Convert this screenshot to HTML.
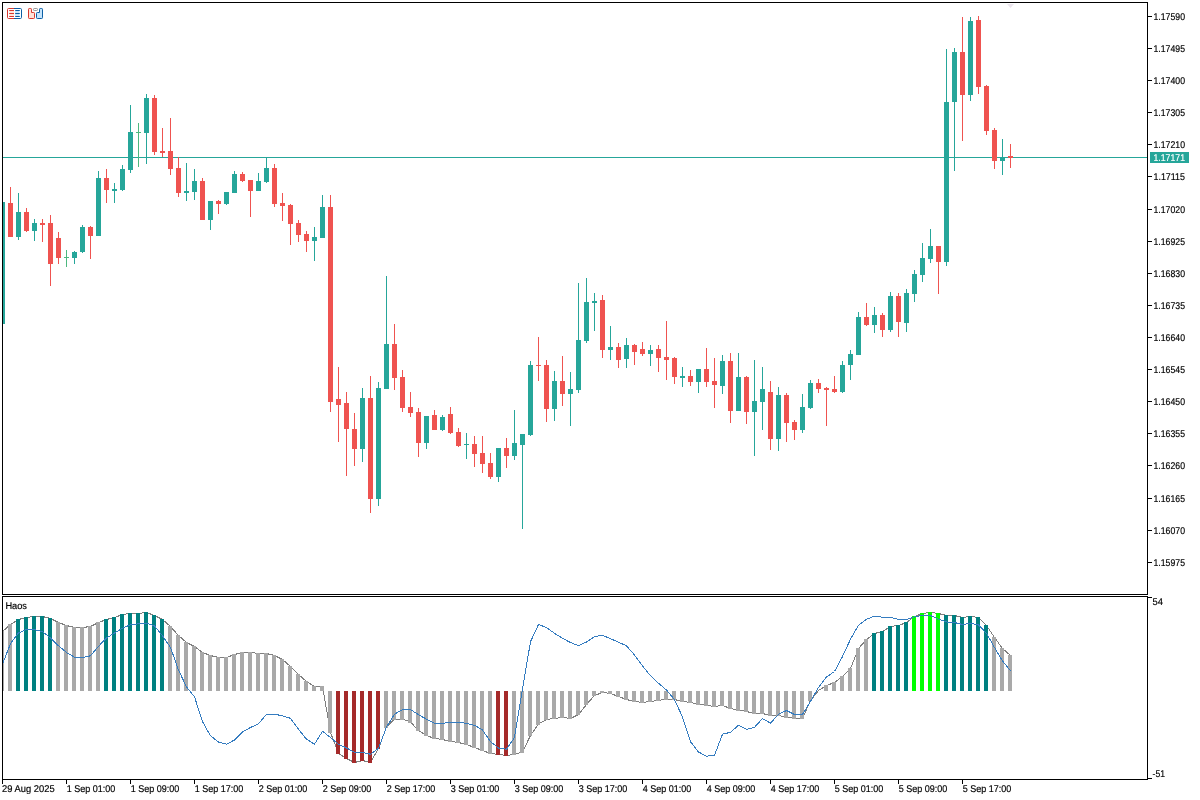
<!DOCTYPE html>
<html><head><meta charset="utf-8"><title>Chart</title>
<style>html,body{margin:0;padding:0;background:#fff;overflow:hidden}svg{display:block}text{font-family:"Liberation Sans",sans-serif;font-size:9.8px;fill:#000;stroke:#000;stroke-width:0.18px;text-rendering:geometricPrecision}</style>
</head><body>
<svg width="1200" height="800" viewBox="0 0 1200 800">
<rect width="1200" height="800" fill="#fff"/>
<defs><clipPath id="cm"><rect x="3" y="3" width="1144" height="591"/></clipPath><clipPath id="ci"><rect x="3" y="597" width="1144" height="182"/></clipPath></defs>
<g clip-path="url(#cm)" shape-rendering="crispEdges">
<rect x="3" y="157" width="1144" height="1" fill="#26a69a"/>
<rect x="2" y="202" width="1" height="122" fill="#26a69a"/>
<rect x="0" y="202" width="5" height="122" fill="#26a69a"/>
<rect x="10" y="187" width="1" height="50" fill="#ef5350"/>
<rect x="8" y="203" width="5" height="34" fill="#ef5350"/>
<rect x="18" y="193" width="1" height="47" fill="#26a69a"/>
<rect x="16" y="212" width="5" height="25" fill="#26a69a"/>
<rect x="26" y="208" width="1" height="24" fill="#ef5350"/>
<rect x="24" y="212" width="5" height="19" fill="#ef5350"/>
<rect x="34" y="219" width="1" height="22" fill="#26a69a"/>
<rect x="32" y="223" width="5" height="8" fill="#26a69a"/>
<rect x="42" y="219" width="1" height="23" fill="#ef5350"/>
<rect x="40" y="223" width="5" height="2" fill="#ef5350"/>
<rect x="50" y="215" width="1" height="71" fill="#ef5350"/>
<rect x="48" y="223" width="5" height="41" fill="#ef5350"/>
<rect x="58" y="232" width="1" height="32" fill="#ef5350"/>
<rect x="56" y="238" width="5" height="20" fill="#ef5350"/>
<rect x="66" y="250" width="1" height="17" fill="#4db87f"/>
<rect x="64" y="257" width="5" height="1" fill="#4db87f"/>
<rect x="74" y="251" width="1" height="13" fill="#26a69a"/>
<rect x="72" y="252" width="5" height="6" fill="#26a69a"/>
<rect x="82" y="225" width="1" height="28" fill="#26a69a"/>
<rect x="80" y="227" width="5" height="25" fill="#26a69a"/>
<rect x="90" y="226" width="1" height="33" fill="#ef5350"/>
<rect x="88" y="227" width="5" height="9" fill="#ef5350"/>
<rect x="98" y="171" width="1" height="65" fill="#26a69a"/>
<rect x="96" y="178" width="5" height="58" fill="#26a69a"/>
<rect x="106" y="169" width="1" height="34" fill="#ef5350"/>
<rect x="104" y="178" width="5" height="12" fill="#ef5350"/>
<rect x="114" y="183" width="1" height="20" fill="#26a69a"/>
<rect x="112" y="189" width="5" height="2" fill="#26a69a"/>
<rect x="122" y="165" width="1" height="26" fill="#26a69a"/>
<rect x="120" y="169" width="5" height="21" fill="#26a69a"/>
<rect x="130" y="105" width="1" height="68" fill="#26a69a"/>
<rect x="128" y="132" width="5" height="38" fill="#26a69a"/>
<rect x="138" y="123" width="1" height="44" fill="#4db87f"/>
<rect x="136" y="132" width="5" height="1" fill="#4db87f"/>
<rect x="146" y="94" width="1" height="70" fill="#26a69a"/>
<rect x="144" y="98" width="5" height="35" fill="#26a69a"/>
<rect x="154" y="95" width="1" height="60" fill="#ef5350"/>
<rect x="152" y="98" width="5" height="54" fill="#ef5350"/>
<rect x="162" y="128" width="1" height="29" fill="#ef5350"/>
<rect x="160" y="151" width="5" height="2" fill="#ef5350"/>
<rect x="170" y="118" width="1" height="57" fill="#ef5350"/>
<rect x="168" y="151" width="5" height="18" fill="#ef5350"/>
<rect x="178" y="157" width="1" height="40" fill="#ef5350"/>
<rect x="176" y="168" width="5" height="25" fill="#ef5350"/>
<rect x="186" y="163" width="1" height="38" fill="#26a69a"/>
<rect x="184" y="191" width="5" height="2" fill="#26a69a"/>
<rect x="194" y="169" width="1" height="31" fill="#26a69a"/>
<rect x="192" y="181" width="5" height="11" fill="#26a69a"/>
<rect x="202" y="178" width="1" height="42" fill="#ef5350"/>
<rect x="200" y="181" width="5" height="39" fill="#ef5350"/>
<rect x="210" y="201" width="1" height="29" fill="#26a69a"/>
<rect x="208" y="201" width="5" height="19" fill="#26a69a"/>
<rect x="218" y="200" width="1" height="14" fill="#ef5350"/>
<rect x="216" y="201" width="5" height="3" fill="#ef5350"/>
<rect x="226" y="192" width="1" height="13" fill="#26a69a"/>
<rect x="224" y="192" width="5" height="12" fill="#26a69a"/>
<rect x="234" y="171" width="1" height="22" fill="#26a69a"/>
<rect x="232" y="174" width="5" height="19" fill="#26a69a"/>
<rect x="242" y="172" width="1" height="10" fill="#ef5350"/>
<rect x="240" y="174" width="5" height="7" fill="#ef5350"/>
<rect x="250" y="180" width="1" height="37" fill="#ef5350"/>
<rect x="248" y="180" width="5" height="11" fill="#ef5350"/>
<rect x="258" y="173" width="1" height="18" fill="#26a69a"/>
<rect x="256" y="181" width="5" height="10" fill="#26a69a"/>
<rect x="266" y="157" width="1" height="26" fill="#26a69a"/>
<rect x="264" y="168" width="5" height="14" fill="#26a69a"/>
<rect x="274" y="164" width="1" height="43" fill="#ef5350"/>
<rect x="272" y="168" width="5" height="36" fill="#ef5350"/>
<rect x="282" y="193" width="1" height="28" fill="#ef5350"/>
<rect x="280" y="203" width="5" height="3" fill="#ef5350"/>
<rect x="290" y="204" width="1" height="41" fill="#ef5350"/>
<rect x="288" y="205" width="5" height="19" fill="#ef5350"/>
<rect x="298" y="220" width="1" height="22" fill="#ef5350"/>
<rect x="296" y="223" width="5" height="12" fill="#ef5350"/>
<rect x="306" y="231" width="1" height="21" fill="#ef5350"/>
<rect x="304" y="234" width="5" height="7" fill="#ef5350"/>
<rect x="314" y="227" width="1" height="34" fill="#26a69a"/>
<rect x="312" y="237" width="5" height="4" fill="#26a69a"/>
<rect x="322" y="195" width="1" height="43" fill="#26a69a"/>
<rect x="320" y="207" width="5" height="31" fill="#26a69a"/>
<rect x="330" y="195" width="1" height="217" fill="#ef5350"/>
<rect x="328" y="207" width="5" height="195" fill="#ef5350"/>
<rect x="338" y="367" width="1" height="75" fill="#ef5350"/>
<rect x="336" y="399" width="5" height="6" fill="#ef5350"/>
<rect x="346" y="392" width="1" height="84" fill="#ef5350"/>
<rect x="344" y="403" width="5" height="26" fill="#ef5350"/>
<rect x="354" y="413" width="1" height="53" fill="#ef5350"/>
<rect x="352" y="429" width="5" height="20" fill="#ef5350"/>
<rect x="362" y="388" width="1" height="74" fill="#26a69a"/>
<rect x="360" y="398" width="5" height="51" fill="#26a69a"/>
<rect x="370" y="376" width="1" height="137" fill="#ef5350"/>
<rect x="368" y="398" width="5" height="101" fill="#ef5350"/>
<rect x="378" y="382" width="1" height="124" fill="#26a69a"/>
<rect x="376" y="388" width="5" height="111" fill="#26a69a"/>
<rect x="386" y="276" width="1" height="113" fill="#26a69a"/>
<rect x="384" y="344" width="5" height="45" fill="#26a69a"/>
<rect x="394" y="324" width="1" height="66" fill="#ef5350"/>
<rect x="392" y="344" width="5" height="34" fill="#ef5350"/>
<rect x="402" y="370" width="1" height="42" fill="#ef5350"/>
<rect x="400" y="377" width="5" height="31" fill="#ef5350"/>
<rect x="410" y="392" width="1" height="25" fill="#ef5350"/>
<rect x="408" y="407" width="5" height="6" fill="#ef5350"/>
<rect x="418" y="408" width="1" height="49" fill="#ef5350"/>
<rect x="416" y="412" width="5" height="31" fill="#ef5350"/>
<rect x="426" y="416" width="1" height="33" fill="#26a69a"/>
<rect x="424" y="416" width="5" height="27" fill="#26a69a"/>
<rect x="434" y="410" width="1" height="20" fill="#ef5350"/>
<rect x="432" y="415" width="5" height="15" fill="#ef5350"/>
<rect x="442" y="415" width="1" height="16" fill="#26a69a"/>
<rect x="440" y="417" width="5" height="13" fill="#26a69a"/>
<rect x="450" y="407" width="1" height="27" fill="#ef5350"/>
<rect x="448" y="414" width="5" height="19" fill="#ef5350"/>
<rect x="458" y="428" width="1" height="19" fill="#ef5350"/>
<rect x="456" y="432" width="5" height="14" fill="#ef5350"/>
<rect x="466" y="433" width="1" height="26" fill="#26a69a"/>
<rect x="464" y="444" width="5" height="1" fill="#26a69a"/>
<rect x="474" y="436" width="1" height="31" fill="#ef5350"/>
<rect x="472" y="444" width="5" height="10" fill="#ef5350"/>
<rect x="482" y="436" width="1" height="37" fill="#ef5350"/>
<rect x="480" y="453" width="5" height="11" fill="#ef5350"/>
<rect x="490" y="453" width="1" height="26" fill="#ef5350"/>
<rect x="488" y="463" width="5" height="14" fill="#ef5350"/>
<rect x="498" y="448" width="1" height="34" fill="#26a69a"/>
<rect x="496" y="448" width="5" height="29" fill="#26a69a"/>
<rect x="506" y="438" width="1" height="30" fill="#ef5350"/>
<rect x="504" y="448" width="5" height="8" fill="#ef5350"/>
<rect x="514" y="410" width="1" height="50" fill="#26a69a"/>
<rect x="512" y="443" width="5" height="13" fill="#26a69a"/>
<rect x="522" y="434" width="1" height="95" fill="#26a69a"/>
<rect x="520" y="434" width="5" height="11" fill="#26a69a"/>
<rect x="530" y="361" width="1" height="75" fill="#26a69a"/>
<rect x="528" y="365" width="5" height="70" fill="#26a69a"/>
<rect x="538" y="337" width="1" height="44" fill="#ef5350"/>
<rect x="536" y="365" width="5" height="1" fill="#ef5350"/>
<rect x="546" y="360" width="1" height="62" fill="#ef5350"/>
<rect x="544" y="365" width="5" height="44" fill="#ef5350"/>
<rect x="554" y="371" width="1" height="50" fill="#26a69a"/>
<rect x="552" y="381" width="5" height="28" fill="#26a69a"/>
<rect x="562" y="356" width="1" height="50" fill="#ef5350"/>
<rect x="560" y="381" width="5" height="13" fill="#ef5350"/>
<rect x="570" y="372" width="1" height="54" fill="#26a69a"/>
<rect x="568" y="389" width="5" height="5" fill="#26a69a"/>
<rect x="578" y="283" width="1" height="110" fill="#26a69a"/>
<rect x="576" y="340" width="5" height="50" fill="#26a69a"/>
<rect x="586" y="278" width="1" height="65" fill="#26a69a"/>
<rect x="584" y="302" width="5" height="39" fill="#26a69a"/>
<rect x="594" y="293" width="1" height="38" fill="#26a69a"/>
<rect x="592" y="301" width="5" height="2" fill="#26a69a"/>
<rect x="602" y="295" width="1" height="63" fill="#ef5350"/>
<rect x="600" y="300" width="5" height="50" fill="#ef5350"/>
<rect x="610" y="326" width="1" height="34" fill="#26a69a"/>
<rect x="608" y="347" width="5" height="3" fill="#26a69a"/>
<rect x="618" y="343" width="1" height="25" fill="#ef5350"/>
<rect x="616" y="347" width="5" height="13" fill="#ef5350"/>
<rect x="626" y="338" width="1" height="30" fill="#26a69a"/>
<rect x="624" y="345" width="5" height="14" fill="#26a69a"/>
<rect x="634" y="344" width="1" height="21" fill="#ef5350"/>
<rect x="632" y="345" width="5" height="7" fill="#ef5350"/>
<rect x="642" y="342" width="1" height="14" fill="#ef5350"/>
<rect x="640" y="349" width="5" height="5" fill="#ef5350"/>
<rect x="650" y="345" width="1" height="21" fill="#26a69a"/>
<rect x="648" y="350" width="5" height="4" fill="#26a69a"/>
<rect x="658" y="345" width="1" height="27" fill="#ef5350"/>
<rect x="656" y="349" width="5" height="9" fill="#ef5350"/>
<rect x="666" y="321" width="1" height="59" fill="#ef5350"/>
<rect x="664" y="357" width="5" height="3" fill="#ef5350"/>
<rect x="674" y="357" width="1" height="27" fill="#ef5350"/>
<rect x="672" y="358" width="5" height="19" fill="#ef5350"/>
<rect x="682" y="367" width="1" height="20" fill="#26a69a"/>
<rect x="680" y="376" width="5" height="2" fill="#26a69a"/>
<rect x="690" y="370" width="1" height="16" fill="#ef5350"/>
<rect x="688" y="376" width="5" height="6" fill="#ef5350"/>
<rect x="698" y="369" width="1" height="24" fill="#26a69a"/>
<rect x="696" y="369" width="5" height="13" fill="#26a69a"/>
<rect x="706" y="348" width="1" height="39" fill="#ef5350"/>
<rect x="704" y="369" width="5" height="13" fill="#ef5350"/>
<rect x="714" y="358" width="1" height="50" fill="#ef5350"/>
<rect x="712" y="381" width="5" height="4" fill="#ef5350"/>
<rect x="722" y="355" width="1" height="39" fill="#26a69a"/>
<rect x="720" y="361" width="5" height="25" fill="#26a69a"/>
<rect x="730" y="353" width="1" height="70" fill="#ef5350"/>
<rect x="728" y="361" width="5" height="50" fill="#ef5350"/>
<rect x="738" y="353" width="1" height="58" fill="#26a69a"/>
<rect x="736" y="377" width="5" height="34" fill="#26a69a"/>
<rect x="746" y="376" width="1" height="48" fill="#ef5350"/>
<rect x="744" y="377" width="5" height="35" fill="#ef5350"/>
<rect x="754" y="360" width="1" height="96" fill="#26a69a"/>
<rect x="752" y="401" width="5" height="11" fill="#26a69a"/>
<rect x="762" y="367" width="1" height="63" fill="#26a69a"/>
<rect x="760" y="389" width="5" height="13" fill="#26a69a"/>
<rect x="770" y="381" width="1" height="69" fill="#ef5350"/>
<rect x="768" y="392" width="5" height="47" fill="#ef5350"/>
<rect x="778" y="387" width="1" height="64" fill="#26a69a"/>
<rect x="776" y="395" width="5" height="44" fill="#26a69a"/>
<rect x="786" y="393" width="1" height="49" fill="#ef5350"/>
<rect x="784" y="395" width="5" height="28" fill="#ef5350"/>
<rect x="794" y="420" width="1" height="20" fill="#ef5350"/>
<rect x="792" y="422" width="5" height="8" fill="#ef5350"/>
<rect x="802" y="394" width="1" height="39" fill="#26a69a"/>
<rect x="800" y="407" width="5" height="23" fill="#26a69a"/>
<rect x="810" y="380" width="1" height="29" fill="#26a69a"/>
<rect x="808" y="383" width="5" height="25" fill="#26a69a"/>
<rect x="818" y="379" width="1" height="14" fill="#ef5350"/>
<rect x="816" y="383" width="5" height="6" fill="#ef5350"/>
<rect x="826" y="387" width="1" height="39" fill="#ef5350"/>
<rect x="824" y="388" width="5" height="2" fill="#ef5350"/>
<rect x="834" y="376" width="1" height="17" fill="#ef5350"/>
<rect x="832" y="389" width="5" height="3" fill="#ef5350"/>
<rect x="842" y="361" width="1" height="32" fill="#26a69a"/>
<rect x="840" y="365" width="5" height="27" fill="#26a69a"/>
<rect x="850" y="350" width="1" height="30" fill="#26a69a"/>
<rect x="848" y="354" width="5" height="11" fill="#26a69a"/>
<rect x="858" y="312" width="1" height="43" fill="#26a69a"/>
<rect x="856" y="317" width="5" height="38" fill="#26a69a"/>
<rect x="866" y="303" width="1" height="23" fill="#ef5350"/>
<rect x="864" y="317" width="5" height="8" fill="#ef5350"/>
<rect x="874" y="307" width="1" height="26" fill="#26a69a"/>
<rect x="872" y="315" width="5" height="10" fill="#26a69a"/>
<rect x="882" y="313" width="1" height="24" fill="#ef5350"/>
<rect x="880" y="315" width="5" height="15" fill="#ef5350"/>
<rect x="890" y="292" width="1" height="40" fill="#26a69a"/>
<rect x="888" y="296" width="5" height="34" fill="#26a69a"/>
<rect x="898" y="293" width="1" height="44" fill="#ef5350"/>
<rect x="896" y="296" width="5" height="26" fill="#ef5350"/>
<rect x="906" y="289" width="1" height="43" fill="#26a69a"/>
<rect x="904" y="293" width="5" height="30" fill="#26a69a"/>
<rect x="914" y="270" width="1" height="32" fill="#26a69a"/>
<rect x="912" y="274" width="5" height="20" fill="#26a69a"/>
<rect x="922" y="243" width="1" height="39" fill="#26a69a"/>
<rect x="920" y="258" width="5" height="17" fill="#26a69a"/>
<rect x="930" y="229" width="1" height="34" fill="#26a69a"/>
<rect x="928" y="246" width="5" height="13" fill="#26a69a"/>
<rect x="938" y="246" width="1" height="48" fill="#ef5350"/>
<rect x="936" y="246" width="5" height="16" fill="#ef5350"/>
<rect x="946" y="49" width="1" height="217" fill="#26a69a"/>
<rect x="944" y="102" width="5" height="160" fill="#26a69a"/>
<rect x="954" y="48" width="1" height="123" fill="#26a69a"/>
<rect x="952" y="52" width="5" height="50" fill="#26a69a"/>
<rect x="962" y="17" width="1" height="124" fill="#ef5350"/>
<rect x="960" y="52" width="5" height="43" fill="#ef5350"/>
<rect x="970" y="17" width="1" height="84" fill="#26a69a"/>
<rect x="968" y="21" width="5" height="74" fill="#26a69a"/>
<rect x="978" y="16" width="1" height="78" fill="#ef5350"/>
<rect x="976" y="20" width="5" height="67" fill="#ef5350"/>
<rect x="986" y="85" width="1" height="50" fill="#ef5350"/>
<rect x="984" y="86" width="5" height="45" fill="#ef5350"/>
<rect x="994" y="128" width="1" height="41" fill="#ef5350"/>
<rect x="992" y="130" width="5" height="31" fill="#ef5350"/>
<rect x="1002" y="139" width="1" height="36" fill="#26a69a"/>
<rect x="1000" y="158" width="5" height="3" fill="#26a69a"/>
<rect x="1010" y="144" width="1" height="24" fill="#ef5350"/>
<rect x="1008" y="156" width="5" height="2" fill="#ef5350"/>
</g>
<g clip-path="url(#ci)">
<polyline shape-rendering="crispEdges" fill="none" stroke="#7f7f7f" stroke-width="1" points="2.5,631.5 10.5,624.5 18.5,619.5 26.5,617.5 34.5,616.5 42.5,616.5 50.5,618.5 58.5,622.5 66.5,625.5 74.5,627.5 82.5,627.5 90.5,626.5 98.5,622.5 106.5,619.5 114.5,617.5 122.5,614.5 130.5,613.5 138.5,613.5 146.5,612.5 154.5,615.5 162.5,619.5 170.5,626.5 178.5,635.5 186.5,642.5 194.5,646.5 202.5,652.5 210.5,655.5 218.5,657.5 226.5,657.5 234.5,654.5 242.5,652.5 250.5,652.5 258.5,653.5 266.5,653.5 274.5,655.5 282.5,659.5 290.5,666.5 298.5,674.5 306.5,681.5 314.5,686.5 322.5,686.5 330.5,732.5 338.5,753.5 346.5,758.5 354.5,762.5 362.5,760.5 370.5,762.5 378.5,748.5 386.5,727 394.5,719 402.5,719 410.5,722 418.5,730.5 426.5,735.5 434.5,738.5 442.5,739.5 450.5,741.5 458.5,742.5 466.5,744.5 474.5,747.5 482.5,750.5 490.5,753.5 498.5,754.5 506.5,755.5 514.5,754.5 522.5,752 530.5,735.5 538.5,724 546.5,719.5 554.5,718.5 562.5,717.5 570.5,718.5 578.5,714.5 586.5,704.5 594.5,695.5 602.5,692.5 610.5,693.5 618.5,696.5 626.5,699.5 634.5,701.5 642.5,702.5 650.5,701.5 658.5,700.5 666.5,699 674.5,699.5 682.5,701.5 690.5,702.5 698.5,704 706.5,705.5 714.5,706.5 722.5,705.5 730.5,708.5 738.5,710 746.5,711.5 754.5,713.5 762.5,713.5 770.5,715.5 778.5,715.5 786.5,717 794.5,718.5 802.5,718.5 810.5,700.5 818.5,690.5 826.5,685.5 834.5,682.5 842.5,676.5 850.5,668.5 858.5,648.5 866.5,639.5 874.5,633.5 882.5,631.5 890.5,626.5 898.5,625.5 906.5,622.5 914.5,616.5 922.5,613.5 930.5,612.5 938.5,613.5 946.5,615.5 954.5,615.5 962.5,617.5 970.5,616.5 978.5,617.5 986.5,625.5 994.5,637.5 1002.5,648.5 1010.5,655.5"/>
<g shape-rendering="crispEdges">
<rect x="0" y="631" width="4" height="60" fill="#a9a9a9"/>
<rect x="8" y="624" width="4" height="67" fill="#a9a9a9"/>
<rect x="16" y="619" width="4" height="72" fill="#008080"/>
<rect x="24" y="617" width="4" height="74" fill="#008080"/>
<rect x="32" y="616" width="4" height="75" fill="#008080"/>
<rect x="40" y="616" width="4" height="75" fill="#008080"/>
<rect x="48" y="618" width="4" height="73" fill="#008080"/>
<rect x="56" y="622" width="4" height="69" fill="#a9a9a9"/>
<rect x="64" y="625" width="4" height="66" fill="#a9a9a9"/>
<rect x="72" y="627" width="4" height="64" fill="#a9a9a9"/>
<rect x="80" y="627" width="4" height="64" fill="#a9a9a9"/>
<rect x="88" y="626" width="4" height="65" fill="#a9a9a9"/>
<rect x="96" y="622" width="4" height="69" fill="#a9a9a9"/>
<rect x="104" y="619" width="4" height="72" fill="#008080"/>
<rect x="112" y="617" width="4" height="74" fill="#008080"/>
<rect x="120" y="614" width="4" height="77" fill="#008080"/>
<rect x="128" y="613" width="4" height="78" fill="#008080"/>
<rect x="136" y="613" width="4" height="78" fill="#008080"/>
<rect x="144" y="612" width="4" height="79" fill="#008080"/>
<rect x="152" y="615" width="4" height="76" fill="#008080"/>
<rect x="160" y="619" width="4" height="72" fill="#008080"/>
<rect x="168" y="626" width="4" height="65" fill="#a9a9a9"/>
<rect x="176" y="635" width="4" height="56" fill="#a9a9a9"/>
<rect x="184" y="642" width="4" height="49" fill="#a9a9a9"/>
<rect x="192" y="646" width="4" height="45" fill="#a9a9a9"/>
<rect x="200" y="652" width="4" height="39" fill="#a9a9a9"/>
<rect x="208" y="655" width="4" height="36" fill="#a9a9a9"/>
<rect x="216" y="657" width="4" height="34" fill="#a9a9a9"/>
<rect x="224" y="657" width="4" height="34" fill="#a9a9a9"/>
<rect x="232" y="654" width="4" height="37" fill="#a9a9a9"/>
<rect x="240" y="652" width="4" height="39" fill="#a9a9a9"/>
<rect x="248" y="652" width="4" height="39" fill="#a9a9a9"/>
<rect x="256" y="653" width="4" height="38" fill="#a9a9a9"/>
<rect x="264" y="653" width="4" height="38" fill="#a9a9a9"/>
<rect x="272" y="655" width="4" height="36" fill="#a9a9a9"/>
<rect x="280" y="659" width="4" height="32" fill="#a9a9a9"/>
<rect x="288" y="666" width="4" height="25" fill="#a9a9a9"/>
<rect x="296" y="674" width="4" height="17" fill="#a9a9a9"/>
<rect x="304" y="681" width="4" height="10" fill="#a9a9a9"/>
<rect x="312" y="686" width="4" height="5" fill="#a9a9a9"/>
<rect x="320" y="686" width="4" height="5" fill="#a9a9a9"/>
<rect x="328" y="691" width="4" height="42" fill="#a9a9a9"/>
<rect x="336" y="691" width="4" height="63" fill="#a52a2a"/>
<rect x="344" y="691" width="4" height="68" fill="#a52a2a"/>
<rect x="352" y="691" width="4" height="72" fill="#a52a2a"/>
<rect x="360" y="691" width="4" height="70" fill="#a52a2a"/>
<rect x="368" y="691" width="4" height="72" fill="#a52a2a"/>
<rect x="376" y="691" width="4" height="58" fill="#a52a2a"/>
<rect x="384" y="691" width="4" height="36.5" fill="#a9a9a9"/>
<rect x="392" y="691" width="4" height="28.5" fill="#a9a9a9"/>
<rect x="400" y="691" width="4" height="28.5" fill="#a9a9a9"/>
<rect x="408" y="691" width="4" height="31.5" fill="#a9a9a9"/>
<rect x="416" y="691" width="4" height="40" fill="#a9a9a9"/>
<rect x="424" y="691" width="4" height="45" fill="#a9a9a9"/>
<rect x="432" y="691" width="4" height="48" fill="#a9a9a9"/>
<rect x="440" y="691" width="4" height="49" fill="#a9a9a9"/>
<rect x="448" y="691" width="4" height="51" fill="#a9a9a9"/>
<rect x="456" y="691" width="4" height="52" fill="#a9a9a9"/>
<rect x="464" y="691" width="4" height="54" fill="#a9a9a9"/>
<rect x="472" y="691" width="4" height="57" fill="#a9a9a9"/>
<rect x="480" y="691" width="4" height="60" fill="#a9a9a9"/>
<rect x="488" y="691" width="4" height="63" fill="#a9a9a9"/>
<rect x="496" y="691" width="4" height="64" fill="#a52a2a"/>
<rect x="504" y="691" width="4" height="65" fill="#a52a2a"/>
<rect x="512" y="691" width="4" height="64" fill="#a9a9a9"/>
<rect x="520" y="691" width="4" height="61.5" fill="#a9a9a9"/>
<rect x="528" y="691" width="4" height="45" fill="#a9a9a9"/>
<rect x="536" y="691" width="4" height="33.5" fill="#a9a9a9"/>
<rect x="544" y="691" width="4" height="29" fill="#a9a9a9"/>
<rect x="552" y="691" width="4" height="28" fill="#a9a9a9"/>
<rect x="560" y="691" width="4" height="27" fill="#a9a9a9"/>
<rect x="568" y="691" width="4" height="28" fill="#a9a9a9"/>
<rect x="576" y="691" width="4" height="24" fill="#a9a9a9"/>
<rect x="584" y="691" width="4" height="14" fill="#a9a9a9"/>
<rect x="592" y="691" width="4" height="5" fill="#a9a9a9"/>
<rect x="600" y="691" width="4" height="2" fill="#a9a9a9"/>
<rect x="608" y="691" width="4" height="3" fill="#a9a9a9"/>
<rect x="616" y="691" width="4" height="6" fill="#a9a9a9"/>
<rect x="624" y="691" width="4" height="9" fill="#a9a9a9"/>
<rect x="632" y="691" width="4" height="11" fill="#a9a9a9"/>
<rect x="640" y="691" width="4" height="12" fill="#a9a9a9"/>
<rect x="648" y="691" width="4" height="11" fill="#a9a9a9"/>
<rect x="656" y="691" width="4" height="10" fill="#a9a9a9"/>
<rect x="664" y="691" width="4" height="8.5" fill="#a9a9a9"/>
<rect x="672" y="691" width="4" height="9" fill="#a9a9a9"/>
<rect x="680" y="691" width="4" height="11" fill="#a9a9a9"/>
<rect x="688" y="691" width="4" height="12" fill="#a9a9a9"/>
<rect x="696" y="691" width="4" height="13.5" fill="#a9a9a9"/>
<rect x="704" y="691" width="4" height="15" fill="#a9a9a9"/>
<rect x="712" y="691" width="4" height="16" fill="#a9a9a9"/>
<rect x="720" y="691" width="4" height="15" fill="#a9a9a9"/>
<rect x="728" y="691" width="4" height="18" fill="#a9a9a9"/>
<rect x="736" y="691" width="4" height="19.5" fill="#a9a9a9"/>
<rect x="744" y="691" width="4" height="21" fill="#a9a9a9"/>
<rect x="752" y="691" width="4" height="23" fill="#a9a9a9"/>
<rect x="760" y="691" width="4" height="23" fill="#a9a9a9"/>
<rect x="768" y="691" width="4" height="25" fill="#a9a9a9"/>
<rect x="776" y="691" width="4" height="25" fill="#a9a9a9"/>
<rect x="784" y="691" width="4" height="26.5" fill="#a9a9a9"/>
<rect x="792" y="691" width="4" height="28" fill="#a9a9a9"/>
<rect x="800" y="691" width="4" height="28" fill="#a9a9a9"/>
<rect x="808" y="691" width="4" height="10" fill="#a9a9a9"/>
<rect x="824" y="685" width="4" height="6" fill="#a9a9a9"/>
<rect x="832" y="682" width="4" height="9" fill="#a9a9a9"/>
<rect x="840" y="676" width="4" height="15" fill="#a9a9a9"/>
<rect x="848" y="668" width="4" height="23" fill="#a9a9a9"/>
<rect x="856" y="648" width="4" height="43" fill="#a9a9a9"/>
<rect x="864" y="639" width="4" height="52" fill="#a9a9a9"/>
<rect x="872" y="633" width="4" height="58" fill="#008080"/>
<rect x="880" y="631" width="4" height="60" fill="#008080"/>
<rect x="888" y="626" width="4" height="65" fill="#008080"/>
<rect x="896" y="625" width="4" height="66" fill="#008080"/>
<rect x="904" y="622" width="4" height="69" fill="#008080"/>
<rect x="912" y="616" width="4" height="75" fill="#00ff00"/>
<rect x="920" y="613" width="4" height="78" fill="#00ff00"/>
<rect x="928" y="612" width="4" height="79" fill="#00ff00"/>
<rect x="936" y="613" width="4" height="78" fill="#00ff00"/>
<rect x="944" y="615" width="4" height="76" fill="#008080"/>
<rect x="952" y="615" width="4" height="76" fill="#008080"/>
<rect x="960" y="617" width="4" height="74" fill="#008080"/>
<rect x="968" y="616" width="4" height="75" fill="#008080"/>
<rect x="976" y="617" width="4" height="74" fill="#008080"/>
<rect x="984" y="625" width="4" height="66" fill="#008080"/>
<rect x="992" y="637" width="4" height="54" fill="#a9a9a9"/>
<rect x="1000" y="648" width="4" height="43" fill="#a9a9a9"/>
<rect x="1008" y="655" width="4" height="36" fill="#a9a9a9"/>
</g>
<polyline shape-rendering="crispEdges" fill="none" stroke="#357cc0" stroke-width="1" points="2.5,664 10.5,643.7 18.5,633 26.5,629.5 34.5,629.5 42.5,631.7 50.5,638 58.5,645.8 66.5,652.5 74.5,657.2 82.5,657.5 90.5,655.8 98.5,646.3 106.5,638 114.5,633 122.5,628.3 130.5,624.7 138.5,623.8 146.5,623.3 154.5,625.8 162.5,635.8 170.5,647.5 178.5,670 186.5,687 194.5,696.7 202.5,721.7 210.5,735.8 218.5,742 226.5,744.2 234.5,740 242.5,732 250.5,727.5 258.5,723.8 266.5,714.2 274.5,714.2 282.5,715.8 290.5,718.3 298.5,729.2 306.5,739.2 314.5,744.2 322.5,731.3 330.5,737.5 338.5,744.2 346.5,748 354.5,752.2 362.5,752.5 370.5,754.2 378.5,748.3 386.5,727 394.5,714.2 402.5,709.5 410.5,709.5 418.5,714.7 426.5,719.2 434.5,723.3 442.5,723.3 450.5,722.2 458.5,722.2 466.5,723.3 474.5,725.3 482.5,730 490.5,741.7 498.5,748 506.5,749.2 514.5,737.5 522.5,689 530.5,641.7 538.5,624.5 546.5,627.5 554.5,633.3 562.5,638.3 570.5,642.6 578.5,645.5 586.5,642 594.5,636.7 602.5,635.3 610.5,638.7 618.5,642.2 626.5,645.8 634.5,655 642.5,665.8 650.5,675.8 658.5,683.3 666.5,690 674.5,699.6 682.5,717 690.5,741.7 698.5,752 706.5,756.2 714.5,755.3 722.5,734.2 730.5,732.3 738.5,725.2 746.5,729.3 754.5,727.3 762.5,718.5 770.5,723.2 778.5,714.2 786.5,710.5 794.5,714.5 802.5,714.5 810.5,701.3 818.5,687.5 826.5,677 834.5,671.5 842.5,656.5 850.5,639.2 858.5,625.3 866.5,619.2 874.5,616.2 882.5,617.2 890.5,617.2 898.5,619.5 906.5,619.5 914.5,616.7 922.5,615.5 930.5,615.5 938.5,619.2 946.5,622 954.5,622.5 962.5,624.5 970.5,623.3 978.5,625 986.5,633.3 994.5,647.5 1002.5,661 1010.5,670.8"/>
</g>
<g shape-rendering="crispEdges" fill="#000">
<rect x="2" y="2" width="1146" height="1"/>
<rect x="2" y="594" width="1146" height="1"/>
<rect x="2" y="2" width="1" height="593"/>
<rect x="1147" y="2" width="1" height="593"/>
<rect x="1147" y="596" width="1" height="184"/>
<rect x="2" y="596" width="1146" height="1"/>
<rect x="2" y="779" width="1146" height="1"/>
<rect x="2" y="596" width="1" height="184"/>
<rect x="1148" y="16" width="4" height="1"/>
<rect x="1148" y="48" width="4" height="1"/>
<rect x="1148" y="80" width="4" height="1"/>
<rect x="1148" y="112" width="4" height="1"/>
<rect x="1148" y="144" width="4" height="1"/>
<rect x="1148" y="176" width="4" height="1"/>
<rect x="1148" y="209" width="4" height="1"/>
<rect x="1148" y="241" width="4" height="1"/>
<rect x="1148" y="273" width="4" height="1"/>
<rect x="1148" y="305" width="4" height="1"/>
<rect x="1148" y="337" width="4" height="1"/>
<rect x="1148" y="369" width="4" height="1"/>
<rect x="1148" y="401" width="4" height="1"/>
<rect x="1148" y="433" width="4" height="1"/>
<rect x="1148" y="465" width="4" height="1"/>
<rect x="1148" y="498" width="4" height="1"/>
<rect x="1148" y="530" width="4" height="1"/>
<rect x="1148" y="562" width="4" height="1"/>
<rect x="1148" y="597" width="4" height="1"/>
<rect x="1148" y="778" width="4" height="1"/>
<rect x="2" y="780" width="1" height="4"/>
<rect x="66" y="780" width="1" height="4"/>
<rect x="130" y="780" width="1" height="4"/>
<rect x="194" y="780" width="1" height="4"/>
<rect x="258" y="780" width="1" height="4"/>
<rect x="322" y="780" width="1" height="4"/>
<rect x="386" y="780" width="1" height="4"/>
<rect x="450" y="780" width="1" height="4"/>
<rect x="514" y="780" width="1" height="4"/>
<rect x="578" y="780" width="1" height="4"/>
<rect x="642" y="780" width="1" height="4"/>
<rect x="706" y="780" width="1" height="4"/>
<rect x="770" y="780" width="1" height="4"/>
<rect x="834" y="780" width="1" height="4"/>
<rect x="898" y="780" width="1" height="4"/>
<rect x="962" y="780" width="1" height="4"/>
</g>
<path d="M1007 4 L1014 4 L1010.5 8 Z" fill="#ebe5ed"/>
<text x="1153.5" y="20" textLength="31.5" lengthAdjust="spacingAndGlyphs">1.17590</text>
<text x="1153.5" y="52" textLength="31.5" lengthAdjust="spacingAndGlyphs">1.17495</text>
<text x="1153.5" y="84" textLength="31.5" lengthAdjust="spacingAndGlyphs">1.17400</text>
<text x="1153.5" y="116" textLength="31.5" lengthAdjust="spacingAndGlyphs">1.17305</text>
<text x="1153.5" y="148" textLength="31.5" lengthAdjust="spacingAndGlyphs">1.17210</text>
<text x="1153.5" y="180" textLength="31.5" lengthAdjust="spacingAndGlyphs">1.17115</text>
<text x="1153.5" y="213" textLength="31.5" lengthAdjust="spacingAndGlyphs">1.17020</text>
<text x="1153.5" y="245" textLength="31.5" lengthAdjust="spacingAndGlyphs">1.16925</text>
<text x="1153.5" y="277" textLength="31.5" lengthAdjust="spacingAndGlyphs">1.16830</text>
<text x="1153.5" y="309" textLength="31.5" lengthAdjust="spacingAndGlyphs">1.16735</text>
<text x="1153.5" y="341" textLength="31.5" lengthAdjust="spacingAndGlyphs">1.16640</text>
<text x="1153.5" y="373" textLength="31.5" lengthAdjust="spacingAndGlyphs">1.16545</text>
<text x="1153.5" y="405" textLength="31.5" lengthAdjust="spacingAndGlyphs">1.16450</text>
<text x="1153.5" y="437" textLength="31.5" lengthAdjust="spacingAndGlyphs">1.16355</text>
<text x="1153.5" y="469" textLength="31.5" lengthAdjust="spacingAndGlyphs">1.16260</text>
<text x="1153.5" y="502" textLength="31.5" lengthAdjust="spacingAndGlyphs">1.16165</text>
<text x="1153.5" y="534" textLength="31.5" lengthAdjust="spacingAndGlyphs">1.16070</text>
<text x="1153.5" y="566" textLength="31.5" lengthAdjust="spacingAndGlyphs">1.15975</text>
<rect x="1150" y="152" width="39" height="11" fill="#26a69a" shape-rendering="crispEdges"/>
<text x="1153.5" y="161" textLength="31.5" lengthAdjust="spacingAndGlyphs" style="fill:#fff;stroke:#fff">1.17171</text>
<text x="1152.5" y="605" textLength="10.4" lengthAdjust="spacingAndGlyphs">54</text>
<text x="1152.5" y="777" textLength="12.5" lengthAdjust="spacingAndGlyphs">-51</text>
<text x="5.4" y="609" textLength="21.6" lengthAdjust="spacingAndGlyphs">Haos</text>
<text x="2" y="792" textLength="52.6" lengthAdjust="spacingAndGlyphs">29 Aug 2025</text>
<text x="66.8" y="792" textLength="48.5" lengthAdjust="spacingAndGlyphs">1 Sep 01:00</text>
<text x="130.8" y="792" textLength="48.5" lengthAdjust="spacingAndGlyphs">1 Sep 09:00</text>
<text x="194.8" y="792" textLength="48.5" lengthAdjust="spacingAndGlyphs">1 Sep 17:00</text>
<text x="258.8" y="792" textLength="48.5" lengthAdjust="spacingAndGlyphs">2 Sep 01:00</text>
<text x="322.8" y="792" textLength="48.5" lengthAdjust="spacingAndGlyphs">2 Sep 09:00</text>
<text x="386.8" y="792" textLength="48.5" lengthAdjust="spacingAndGlyphs">2 Sep 17:00</text>
<text x="450.8" y="792" textLength="48.5" lengthAdjust="spacingAndGlyphs">3 Sep 01:00</text>
<text x="514.8" y="792" textLength="48.5" lengthAdjust="spacingAndGlyphs">3 Sep 09:00</text>
<text x="578.8" y="792" textLength="48.5" lengthAdjust="spacingAndGlyphs">3 Sep 17:00</text>
<text x="642.8" y="792" textLength="48.5" lengthAdjust="spacingAndGlyphs">4 Sep 01:00</text>
<text x="706.8" y="792" textLength="48.5" lengthAdjust="spacingAndGlyphs">4 Sep 09:00</text>
<text x="770.8" y="792" textLength="48.5" lengthAdjust="spacingAndGlyphs">4 Sep 17:00</text>
<text x="834.8" y="792" textLength="48.5" lengthAdjust="spacingAndGlyphs">5 Sep 01:00</text>
<text x="898.8" y="792" textLength="48.5" lengthAdjust="spacingAndGlyphs">5 Sep 09:00</text>
<text x="962.8" y="792" textLength="48.5" lengthAdjust="spacingAndGlyphs">5 Sep 17:00</text>
<g fill="none" stroke-width="1" stroke-linecap="butt" stroke-linejoin="round">
<path d="M14 8.5 H8.6 Q7.5 8.5 7.5 9.6 V17.4 Q7.5 18.5 8.6 18.5 H14" stroke="#d9382d"/>
<path d="M14 8.5 H20.4 Q21.5 8.5 21.5 9.6 V17.4 Q21.5 18.5 20.4 18.5 H14" stroke="#0b5fa5"/>
<rect x="9.5" y="11" width="4.5" height="5" fill="#fde3db" stroke="none"/>
<rect x="15" y="11" width="4.5" height="5" fill="#cbe6fb" stroke="none"/>
<path d="M9.6 10.5 H13.6" stroke="#d9382d" stroke-linecap="round"/>
<path d="M15.6 10.5 H19.4" stroke="#0b5fa5" stroke-linecap="round"/>
<path d="M9.6 13.5 H13.6" stroke="#d9382d" stroke-linecap="round"/>
<path d="M15.6 13.5 H19.4" stroke="#0b5fa5" stroke-linecap="round"/>
<path d="M9.6 16.5 H13.6" stroke="#d9382d" stroke-linecap="round"/>
<path d="M15.6 16.5 H19.4" stroke="#0b5fa5" stroke-linecap="round"/>
<path d="M29.3 8.5 H30.7 Q31.5 8.5 31.5 9.3 V12.5 H33.7 Q34.5 12.5 34.5 13.3 V17.7 Q34.5 18.5 33.7 18.5 H29.3 Q28.5 18.5 28.5 17.7 V9.3 Q28.5 8.5 29.3 8.5 Z" fill="#ffe1d8" stroke="#d9382d"/>
<path d="M41.7 8.5 H40.3 Q39.5 8.5 39.5 9.3 V12.5 H37.3 Q36.5 12.5 36.5 13.3 V17.7 Q36.5 18.5 37.3 18.5 H41.7 Q42.5 18.5 42.5 17.7 V9.3 Q42.5 8.5 41.7 8.5 Z" fill="#c6e4fb" stroke="#0b5fa5"/>
<rect x="33.5" y="8.5" width="4" height="2" rx="0.7" fill="#fff" stroke="#989898" stroke-width="1"/>
</g>
</svg>
</body></html>
